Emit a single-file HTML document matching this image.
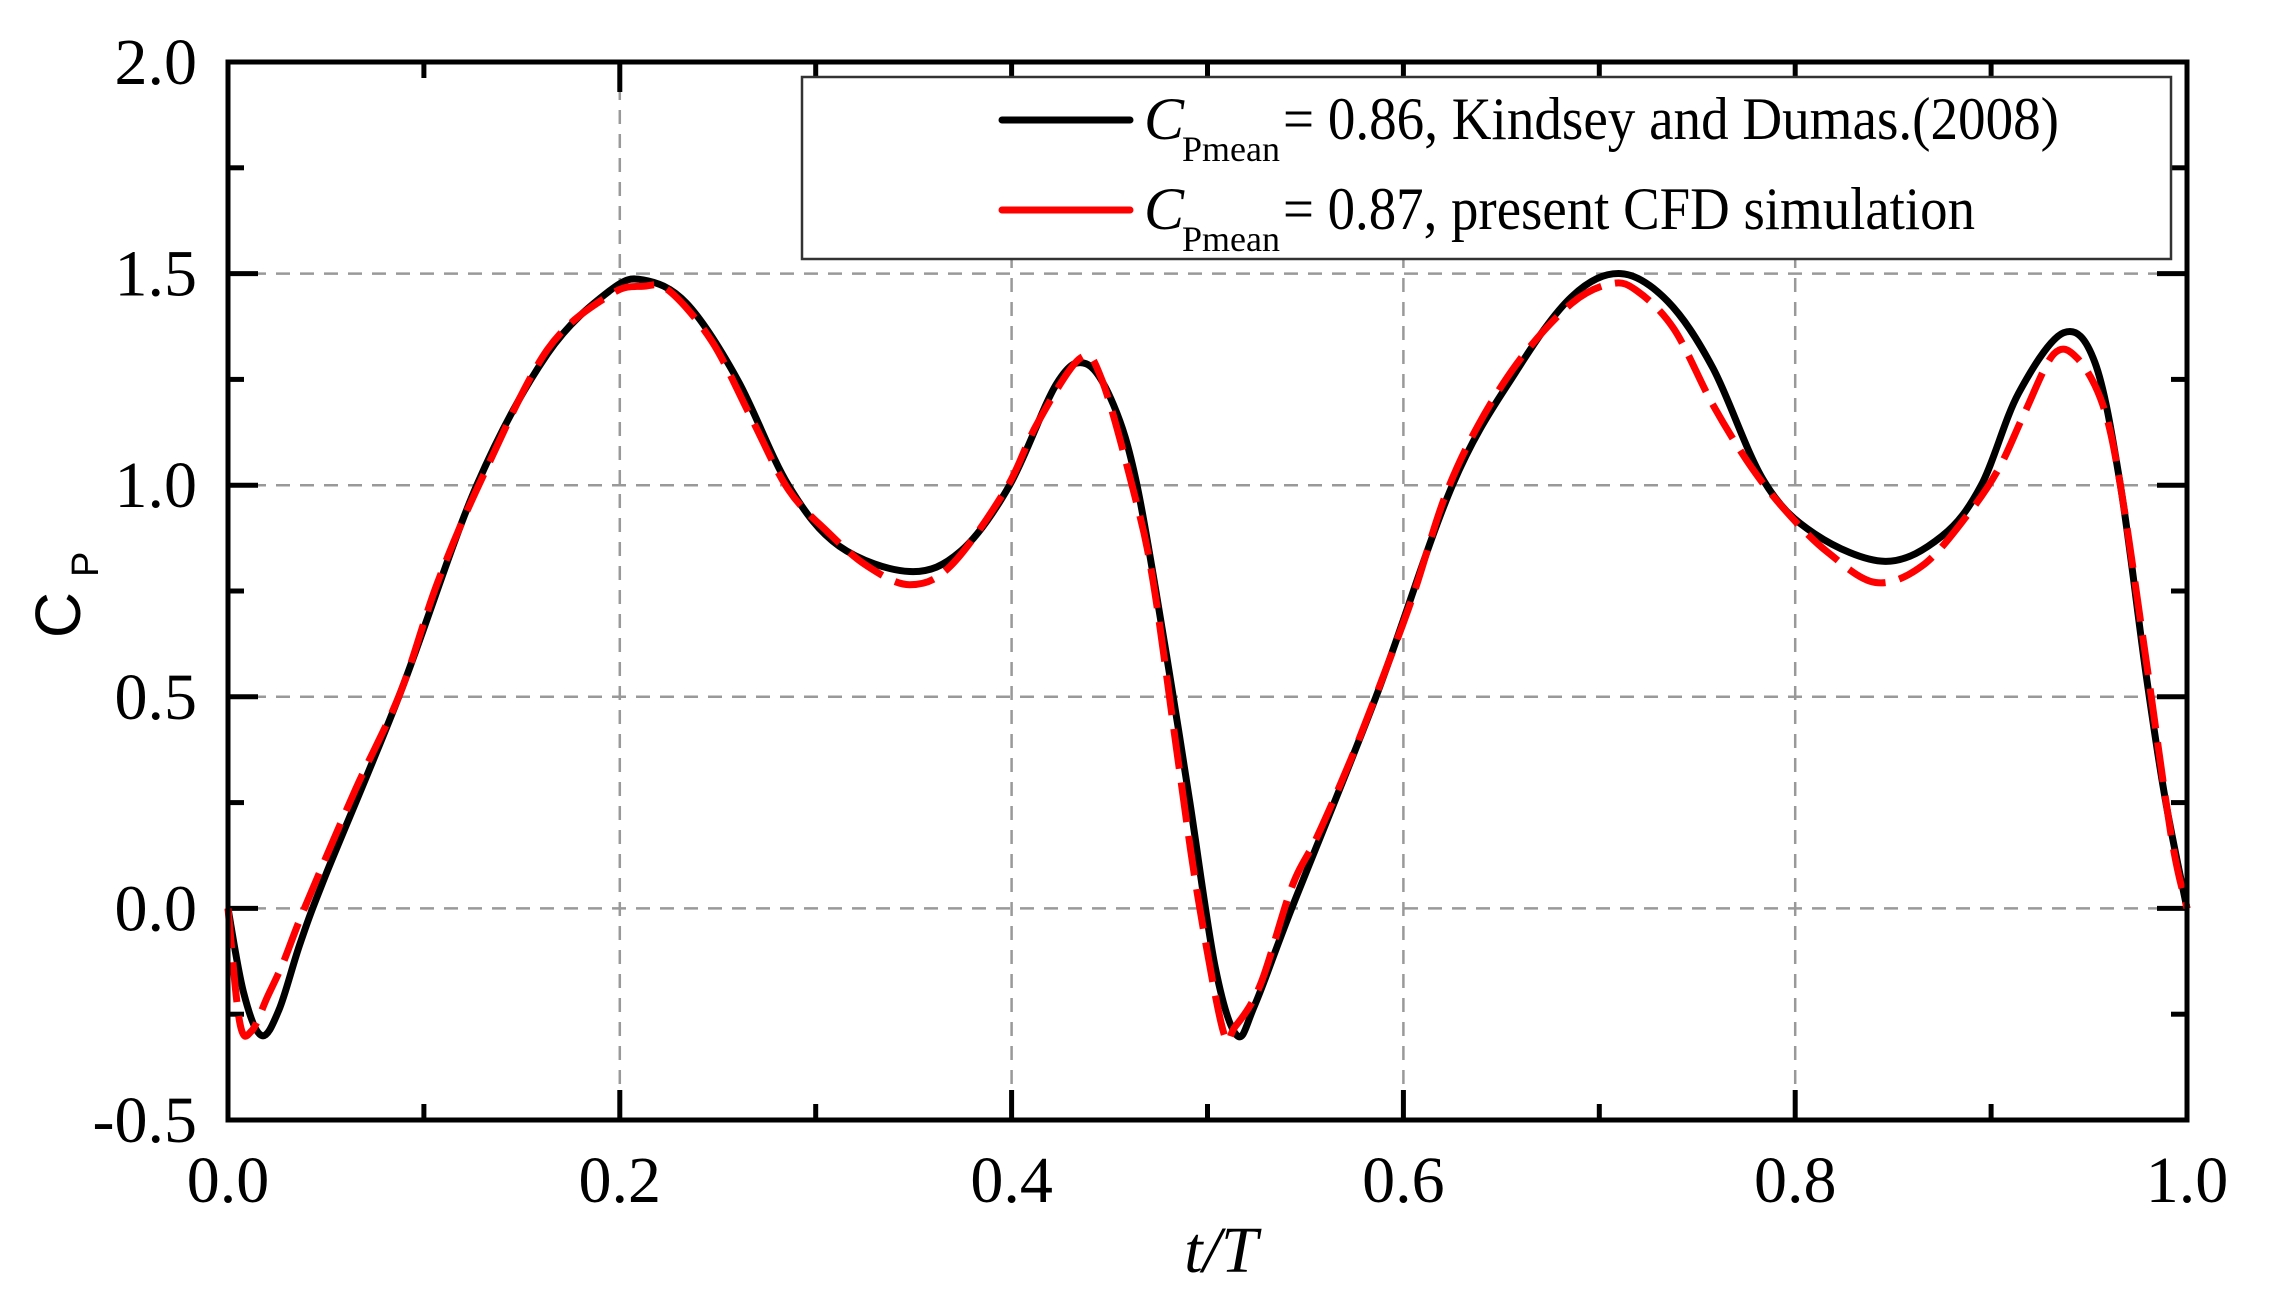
<!DOCTYPE html>
<html><head><meta charset="utf-8"><style>
html,body{margin:0;padding:0;background:#fff;}
svg{display:block;}
</style></head><body>
<svg id="s" width="2274" height="1308" viewBox="0 0 2274 1308" xmlns="http://www.w3.org/2000/svg" font-family="'Liberation Serif', serif">
<rect width="2274" height="1308" fill="#fff"/>
<g id="grid" stroke="#999" stroke-width="2.5" stroke-dasharray="14,10" fill="none"></g>
<g id="ticks" stroke="#000" stroke-width="5" fill="none"></g>
<g id="labels" font-size="66" fill="#000"></g>
<path id="black" fill="none" stroke="#000" stroke-width="7" stroke-linejoin="round"/>
<path id="red" fill="none" stroke="#f00" stroke-width="7" stroke-dasharray="40,14"/>
<rect x="228" y="62" width="1959" height="1058" fill="none" stroke="#000" stroke-width="5"/>
<rect x="802" y="77" width="1369" height="182" fill="#fff" stroke="#333" stroke-width="2.5"/>
<line x1="1002" y1="120" x2="1130" y2="120" stroke="#000" stroke-width="7" stroke-linecap="round"/>
<line x1="1002" y1="210" x2="1130" y2="210" stroke="#f00" stroke-width="7" stroke-linecap="round"/>
<text x="1144" y="139" font-size="60" font-style="italic">C</text>
<text x="1182" y="161" font-size="36">Pmean</text>
<text x="1283" y="139" font-size="60" textLength="776" lengthAdjust="spacingAndGlyphs">= 0.86, Kindsey and Dumas.(2008)</text>
<text x="1144" y="229" font-size="60" font-style="italic">C</text>
<text x="1182" y="251" font-size="36">Pmean</text>
<text x="1283" y="229" font-size="60" textLength="692" lengthAdjust="spacingAndGlyphs">= 0.87, present CFD simulation</text>
<text x="1221" y="1272" font-size="66" text-anchor="middle" font-style="italic">t/T</text>
<g transform="translate(80,607) rotate(-90)" font-family="'Liberation Sans', sans-serif">
<text x="-8" y="0" font-size="64" text-anchor="middle">C</text>
<text x="30" y="18" font-size="38">P</text>
</g>
</svg>
<script>
var L=228,R=2187,T=62,B=1120;
function X(t){return L+t*(R-L);}
function Y(c){return T+(2-c)*(B-T)/2.5;}
var ns="http://www.w3.org/2000/svg";
function el(p,n,a,txt){var e=document.createElementNS(ns,n);for(var k in a)e.setAttribute(k,a[k]);if(txt)e.textContent=txt;document.getElementById(p).appendChild(e);}
for(var i=1;i<5;i++){var x=X(i*0.2);el('grid','line',{x1:x,y1:T,x2:x,y2:B});}
[1.5,1.0,0.5,0.0].forEach(function(c){el('grid','line',{x1:L,y1:Y(c),x2:R,y2:Y(c)});});
for(var i=1;i<10;i++){var x=X(i*0.1),len=(i%2==0)?30:16;
 el('ticks','line',{x1:x,y1:B,x2:x,y2:B-len});el('ticks','line',{x1:x,y1:T,x2:x,y2:T+len});}
for(var i=1;i<10;i++){var c=-0.5+i*0.25,y=Y(c),len=(i%2==0)?30:16;
 el('ticks','line',{x1:L,y1:y,x2:L+len,y2:y});el('ticks','line',{x1:R,y1:y,x2:R-len,y2:y});}
for(var i=0;i<=5;i++){var t=(i*0.2).toFixed(1);el('labels','text',{x:X(i*0.2),y:1202,'text-anchor':'middle'},t);}
[2.0,1.5,1.0,0.5,0.0,-0.5].forEach(function(c){el('labels','text',{x:197,y:Y(c)+22,'text-anchor':'end'},c.toFixed(1));});
function path(p){var pts=p.map(function(q){return [X(q[0]),Y(q[1])];});
 var d="M"+pts[0][0]+","+pts[0][1];
 for(var i=0;i<pts.length-1;i++){var p0=pts[Math.max(0,i-1)],p1=pts[i],p2=pts[i+1],p3=pts[Math.min(pts.length-1,i+2)];
  var c1=[p1[0]+(p2[0]-p0[0])/6,p1[1]+(p2[1]-p0[1])/6],c2=[p2[0]-(p3[0]-p1[0])/6,p2[1]-(p3[1]-p1[1])/6];
  d+=" C"+c1[0].toFixed(1)+","+c1[1].toFixed(1)+" "+c2[0].toFixed(1)+","+c2[1].toFixed(1)+" "+p2[0].toFixed(1)+","+p2[1].toFixed(1);}
 return d;}
var blk=[[0,0],[0.008,-0.2],[0.017,-0.3],[0.026,-0.24],[0.037,-0.08],[0.05,0.08],[0.088,0.51],[0.127,1.0],[0.163,1.31],[0.195,1.46],[0.212,1.485],[0.234,1.43],[0.26,1.25],[0.286,1.0],[0.312,0.856],[0.348,0.796],[0.374,0.844],[0.399,1.0],[0.423,1.24],[0.438,1.287],[0.452,1.19],[0.464,1.0],[0.479,0.6],[0.491,0.25],[0.504,-0.14],[0.515,-0.3],[0.524,-0.23],[0.543,0],[0.586,0.5],[0.625,1.0],[0.657,1.265],[0.686,1.446],[0.711,1.5],[0.735,1.434],[0.758,1.277],[0.784,1.01],[0.81,0.885],[0.846,0.82],[0.875,0.88],[0.895,1.0],[0.914,1.217],[0.937,1.36],[0.953,1.29],[0.966,1.0],[0.979,0.556],[0.989,0.255],[1.0,0]];
var red=[[0,0],[0.006,-0.27],[0.012,-0.29],[0.02,-0.21],[0.028,-0.13],[0.039,0],[0.065,0.28],[0.088,0.51],[0.107,0.77],[0.13,1.02],[0.163,1.32],[0.195,1.45],[0.212,1.47],[0.225,1.46],[0.247,1.34],[0.267,1.16],[0.286,0.99],[0.306,0.89],[0.326,0.81],[0.348,0.765],[0.369,0.81],[0.397,0.99],[0.413,1.145],[0.435,1.3],[0.446,1.25],[0.462,0.99],[0.472,0.78],[0.485,0.35],[0.495,0.03],[0.508,-0.29],[0.514,-0.28],[0.527,-0.18],[0.543,0.05],[0.556,0.17],[0.573,0.35],[0.589,0.54],[0.605,0.74],[0.621,0.97],[0.638,1.14],[0.66,1.3],[0.686,1.43],[0.706,1.476],[0.719,1.46],[0.738,1.37],[0.758,1.19],[0.778,1.04],[0.797,0.93],[0.817,0.84],[0.841,0.77],[0.865,0.81],[0.888,0.93],[0.904,1.04],[0.917,1.17],[0.932,1.31],[0.944,1.3],[0.957,1.19],[0.966,1.0],[0.979,0.59],[0.992,0.17],[1.0,0]];
document.getElementById('black').setAttribute('d',path(blk));
document.getElementById('red').setAttribute('d',path(red));
</script>
</body></html>
